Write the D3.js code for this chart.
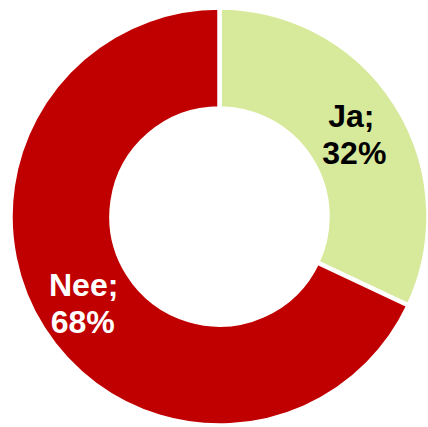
<!DOCTYPE html>
<html>
<head>
<meta charset="utf-8">
<script src="https://cdn.jsdelivr.net/npm/d3@7"></script>
<style>
  html, body { margin: 0; padding: 0; background: #fff; }
  svg { display: block; }
</style>
</head>
<body>
<div id="chart"></div>
<script>
// chart data
const categories = ["Ja", "Nee"];
const values = [32, 68];
const sliceColors = ["#D7E99B", "#C00000"];
const labelColors = ["#000000", "#ffffff"];

const width = 428;
const height = 427;
const cx = 219.5;
const cy = 216.5;
const outerR = 209;
const innerR = 108;

const svg = d3.select("#chart").append("svg")
    .attr("width", width)
    .attr("height", height);

const g = svg.append("g")
    .attr("transform", `translate(${cx}, ${cy})`);

const pie = d3.pie().sort(null).value(d => d.value);
const arc = d3.arc().innerRadius(innerR).outerRadius(outerR);

const pieData = pie(categories.map((c, i) => ({name: c, value: values[i], idx: i})));

g.selectAll("path")
    .data(pieData)
    .enter().append("path")
    .attr("d", arc)
    .attr("fill", d => sliceColors[d.data.idx])
    .attr("stroke", "#fff")
    .attr("stroke-width", 4.5)
    .attr("stroke-linejoin", "miter");

// labels: "Name;" on first line, "xx%" below
const labels = g.selectAll("text.lbl")
    .data(pieData)
    .enter().append("text")
    .attr("class", "lbl")
    .attr("transform", d => `translate(${arc.centroid(d)})`)
    .attr("text-anchor", "middle")
    .attr("font-family", "Liberation Sans, Arial, sans-serif")
    .attr("font-weight", "bold")
    .attr("font-size", "32px")
    .attr("fill", d => labelColors[d.data.idx]);

labels.append("tspan")
    .attr("x", -2)
    .attr("y", -5)
    .text(d => d.data.name + ";");

labels.append("tspan")
    .attr("x", d => d.data.idx === 0 ? 1 : -3)
    .attr("y", 32)
    .text(d => d.data.value + "%");
</script>
</body>
</html>
